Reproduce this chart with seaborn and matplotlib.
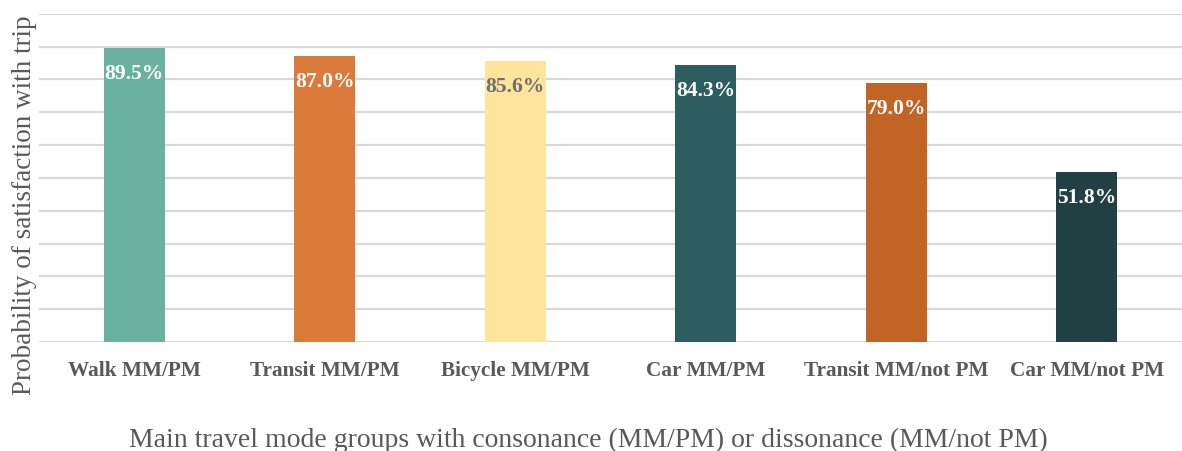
import matplotlib
matplotlib.use("Agg")
import matplotlib.pyplot as plt
import seaborn as sns
import pandas as pd

categories = ["Walk MM/PM", "Transit MM/PM", "Bicycle MM/PM", "Car MM/PM",
              "Transit MM/not PM", "Car MM/not PM"]
values = [0.895, 0.870, 0.856, 0.843, 0.790, 0.518]
labels = ["89.5%", "87.0%", "85.6%", "84.3%", "79.0%", "51.8%"]
colors = ["#6AB19F", "#DA7A3B", "#FEE59B", "#2C5D5F", "#C26425", "#214043"]
label_colors = ["white", "white", "#6E6E6E", "white", "white", "white"]

sns.set_style("white")
plt.rcParams["font.family"] = ["Liberation Serif", "DejaVu Serif"]

df = pd.DataFrame({"cat": categories, "val": values})

fig = plt.figure(figsize=(11.82, 4.52), dpi=100)
ax = fig.add_axes([39 / 1182, 1 - 343 / 452, 1143 / 1182, (343 - 14.7) / 452])

sns.barplot(data=df, x="cat", y="val", hue="cat", palette=colors, legend=False,
            width=0.32, ax=ax, saturation=1, linewidth=0)

ax.set_ylim(0, 1.0)
ax.set_yticks([i / 10 for i in range(11)])
ax.set_yticklabels([])
ax.tick_params(axis="y", length=0)
ax.tick_params(axis="x", length=0, pad=13)
ax.yaxis.grid(True, color="#D9D9D9", linewidth=1.6)
ax.set_axisbelow(True)
for s in ax.spines.values():
    s.set_visible(False)
ax.set_xlim(-0.5, 5.5)

for t in ax.get_xticklabels():
    t.set_fontweight("bold")
    t.set_color("#595959")
    t.set_fontsize(15.3)

for i, (v, lab, lc) in enumerate(zip(values, labels, label_colors)):
    ax.annotate(lab, (i, v), xytext=(0, -25), textcoords="offset pixels",
                ha="center", va="center", color=lc, fontweight="bold", fontsize=15.5)

ax.set_xlabel("")
ax.set_ylabel("")
fig.text(25 / 1182, 1 - 205 / 452, "Probability of satisfaction with trip",
         rotation=90, ha="center", va="center", fontsize=19.5, color="#595959")
fig.text(588 / 1182, 1 - 440 / 452,
         "Main travel mode groups with consonance (MM/PM) or dissonance (MM/not PM)",
         ha="center", va="center", fontsize=20, color="#595959")

fig.savefig("out.png", dpi=100)
